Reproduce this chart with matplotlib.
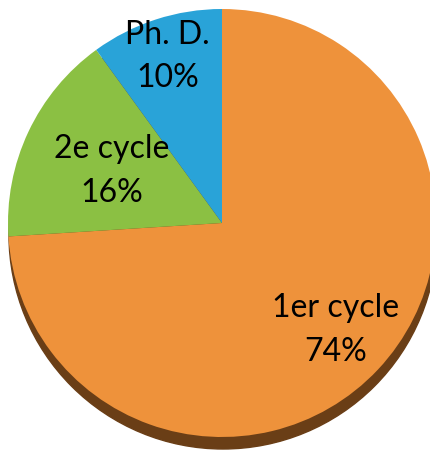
import numpy as np
import matplotlib.pyplot as plt
from matplotlib.patches import Circle

# data
labels = ["1er cycle", "2e cycle", "Ph. D."]
values = [74, 16, 10]
colors = ["#EE923B", "#8BC043", "#29A3D8"]
label_dist = [0.73, 0.57, 0.82]

plt.rcParams['font.family'] = ['Lato', 'DejaVu Sans']

fig = plt.figure(figsize=(4.31, 4.55), dpi=100)
ax = fig.add_axes([0, 0, 1, 1])

cx, cy, r = 222, 232, 214

#shadow under the pie
ax.add_patch(Circle((cx + 1, cy - 12), r, color="#6A3E16", zorder=0))

wedges, _ = ax.pie(values, colors=colors, startangle=90, counterclock=False,
                   center=(cx, cy), radius=r, frame=True,
                   wedgeprops=dict(linewidth=0))

for w, lab, v, d in zip(wedges, labels, values, label_dist):
    ang = np.deg2rad((w.theta1 + w.theta2) / 2)
    ax.text(cx + d * r * np.cos(ang), cy + d * r * np.sin(ang),
            f"{lab}\n{v}%", ha="center", va="center", fontsize=23,
            linespacing=1.55, color="black")

ax.set_xlim(0, 431)
ax.set_ylim(0, 455)
ax.set_aspect('equal')
ax.axis('off')

fig.savefig("out.png", dpi=100)
